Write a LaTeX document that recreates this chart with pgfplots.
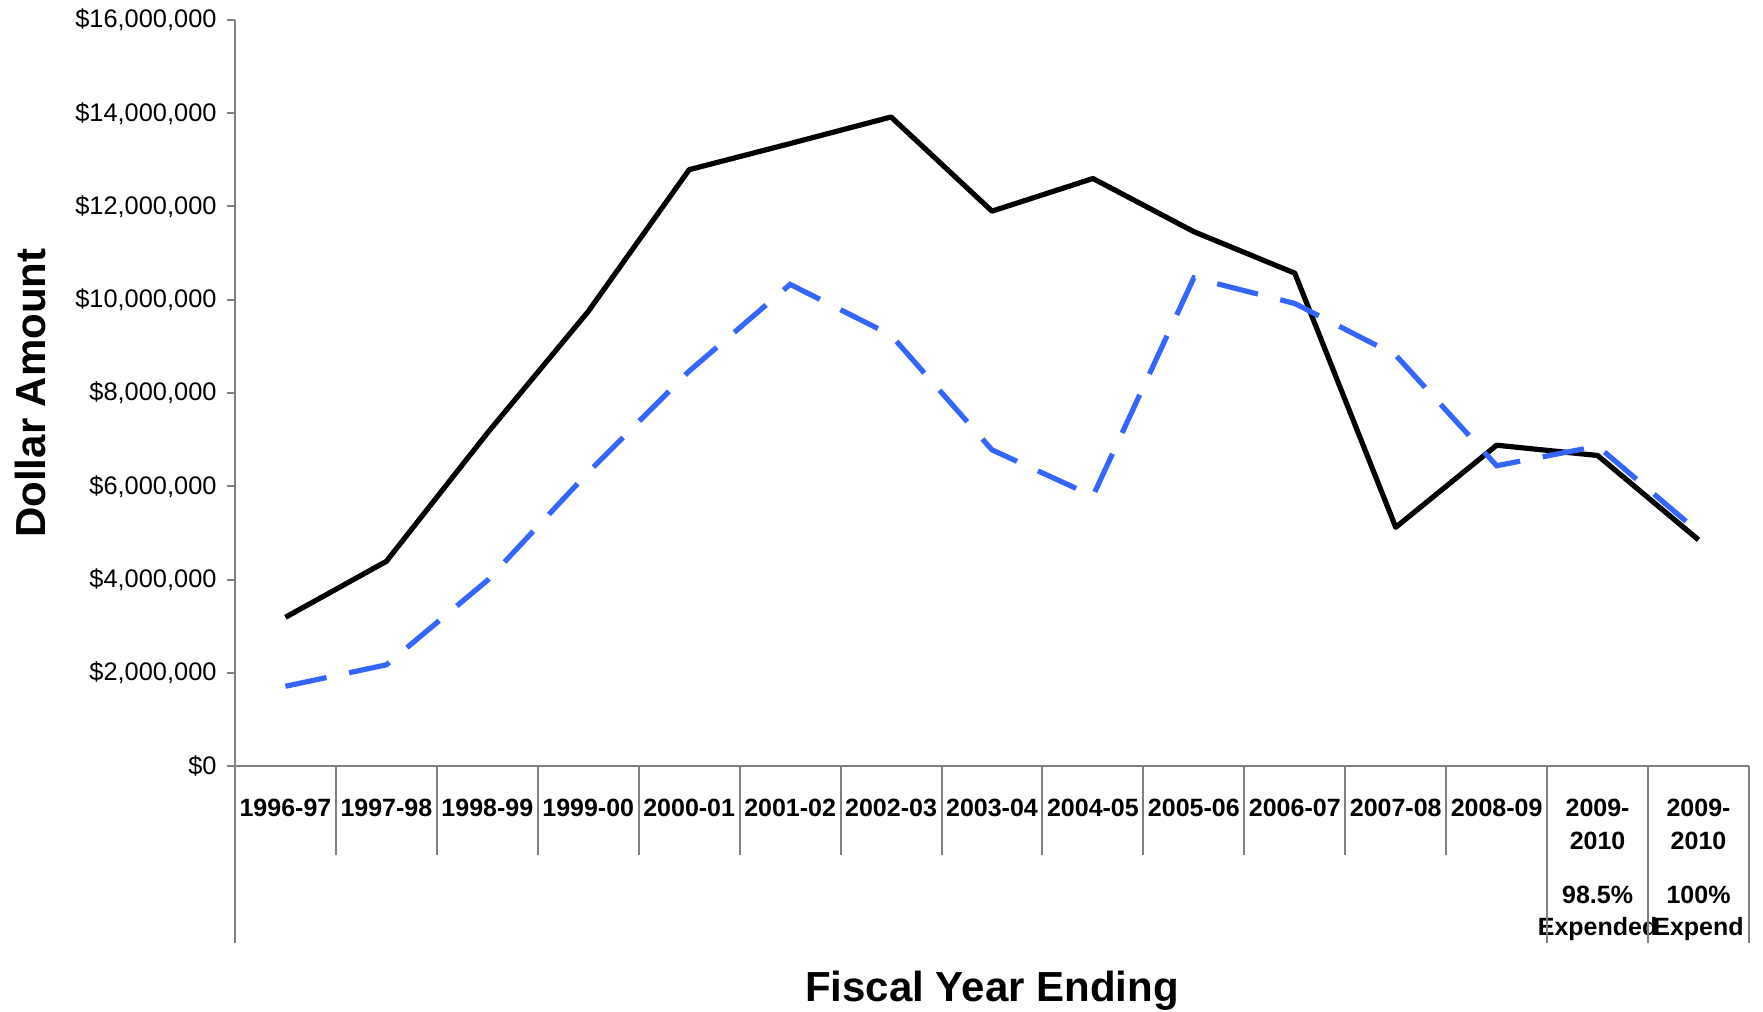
\documentclass[border=0pt]{standalone}
\usepackage{fontspec}
\setmainfont{Liberation Sans}
\usepackage{pgfplots}
\pgfplotsset{compat=1.18}
\definecolor{dashblue}{RGB}{51,102,255}
\begin{document}
\begin{tikzpicture}
\begin{axis}[
  name=ax,
  scale only axis,
  width=757pt, height=373pt,
  xmin=-0.5, xmax=14.5,
  ymin=0, ymax=16000000,
  axis x line*=bottom, axis y line*=left,
  axis line style={draw=gray, line width=1pt, -},
  clip=false,
  xtick={0,...,14},
  major x tick style={draw=none},
  xticklabels={1996-97,1997-98,1998-99,1999-00,2000-01,2001-02,2002-03,2003-04,2004-05,2005-06,2006-07,2007-08,2008-09,
    {2009-\\2010\\[10.7pt]98.5\%\\Expended},{2009-\\2010\\[10.7pt]100\%\\Expend}},
  xticklabel style={font=\bfseries\fontsize{12.5}{16.3}\selectfont, align=center, anchor=north, yshift=-9pt},
  ytick={0,2000000,4000000,6000000,8000000,10000000,12000000,14000000,16000000},
  yticklabels={{\$0},{\$2,000,000},{\$4,000,000},{\$6,000,000},{\$8,000,000},{\$10,000,000},{\$12,000,000},{\$14,000,000},{\$16,000,000}},
  yticklabel style={font=\fontsize{12.7}{15}\selectfont, xshift=-1.7pt},
  tick align=outside,
  major y tick style={draw=gray, line width=1pt},
  major tick length=4pt,
  scaled y ticks=false,
  xlabel={Fiscal Year Ending},
  xlabel style={font=\bfseries\fontsize{21}{25}\selectfont, at={(axis description cs:0.5,-0.3008)}, anchor=center},
  ylabel={Dollar Amount},
  ylabel style={font=\bfseries\fontsize{21}{25}\selectfont, at={(axis description cs:-0.1354,0.5)}, anchor=center},
]
\addplot[black, line width=2.6pt, line join=round] coordinates {
 (0,3190000) (1,4390000) (2,7140000) (3,9750000) (4,12790000) (5,13350000) (6,13920000)
 (7,11900000) (8,12600000) (9,11460000) (10,10570000) (11,5120000) (12,6880000) (13,6660000) (14,4850000)};
\addplot[dashblue, line width=2.6pt, dash pattern=on 21pt off 11.5pt] coordinates {
 (0,1710000) (1,2170000) (2,3980000) (3,6300000) (4,8470000) (5,10330000) (6,9240000)
 (7,6780000) (8,5790000) (9,10470000) (10,9920000) (11,8810000) (12,6440000) (13,6860000) (14,5020000)};
% category separators
\draw[gray, line width=1pt] (axis cs:-0.5,0) -- ++(0pt,-88.5pt);
\draw[gray, line width=1pt] (axis cs:0.5,0) -- ++(0pt,-44.5pt);
\draw[gray, line width=1pt] (axis cs:1.5,0) -- ++(0pt,-44.5pt);
\draw[gray, line width=1pt] (axis cs:2.5,0) -- ++(0pt,-44.5pt);
\draw[gray, line width=1pt] (axis cs:3.5,0) -- ++(0pt,-44.5pt);
\draw[gray, line width=1pt] (axis cs:4.5,0) -- ++(0pt,-44.5pt);
\draw[gray, line width=1pt] (axis cs:5.5,0) -- ++(0pt,-44.5pt);
\draw[gray, line width=1pt] (axis cs:6.5,0) -- ++(0pt,-44.5pt);
\draw[gray, line width=1pt] (axis cs:7.5,0) -- ++(0pt,-44.5pt);
\draw[gray, line width=1pt] (axis cs:8.5,0) -- ++(0pt,-44.5pt);
\draw[gray, line width=1pt] (axis cs:9.5,0) -- ++(0pt,-44.5pt);
\draw[gray, line width=1pt] (axis cs:10.5,0) -- ++(0pt,-44.5pt);
\draw[gray, line width=1pt] (axis cs:11.5,0) -- ++(0pt,-44.5pt);
\draw[gray, line width=1pt] (axis cs:12.5,0) -- ++(0pt,-88.5pt);
\draw[gray, line width=1pt] (axis cs:13.5,0) -- ++(0pt,-88.5pt);
\draw[gray, line width=1pt] (axis cs:14.5,0) -- ++(0pt,-88.5pt);
\end{axis}
\pgfresetboundingbox
\path[use as bounding box] (ax.south west) ++(-117.5pt,-123pt) rectangle ++(881.5pt,506pt);
\end{tikzpicture}
\end{document}
